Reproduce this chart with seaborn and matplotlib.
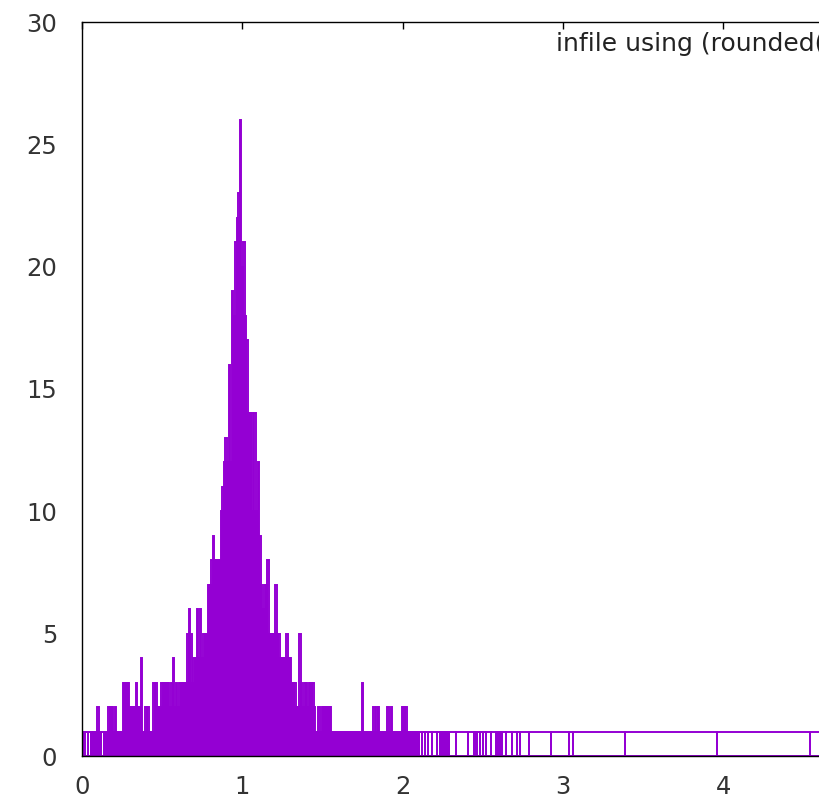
import numpy as np
import pandas as pd
import matplotlib
matplotlib.use("Agg")
import matplotlib.pyplot as plt
import seaborn as sns

# counts per rounded value 0.00 .. 2.11 (step 0.01); 0 = value not present
dense_counts = [
    1, 1, 0, 1, 0, 1, 1, 1, 1, 1, 2, 1, 0, 1, 1, 0, 1,
    2, 2, 2, 1, 2, 1, 1, 1, 1,
    3, 3, 3, 3,
    2, 2, 2, 2, 3, 2, 2, 4, 1, 1, 2, 2, 1, 1, 1,
    3, 3, 2, 2, 2, 3, 3, 3, 3, 3, 2, 3, 4, 2, 3, 2, 3, 3, 3, 3, 3,
    5, 6, 5, 3, 4, 4, 6, 4, 6, 4, 5, 5, 5, 7, 7, 8, 9, 8, 8, 8, 8,
    10, 11, 12, 13, 12, 16, 12, 19, 18, 21, 22, 23, 26, 20, 21, 18, 17, 14, 14, 14, 10, 14, 10, 12,
    9, 7, 6, 7, 7, 8, 5, 5, 5, 5, 7, 5, 5, 4, 4, 4, 4, 5, 4, 4, 3, 3, 3, 2, 2, 5,
    3, 2, 3, 3, 2, 3, 3, 3, 2, 1, 1, 2, 1, 2, 2, 2, 2, 2, 2,
    1, 1, 1, 1, 1, 1, 1, 1, 1, 1, 1, 1, 1, 1, 1, 1, 1, 1, 1,
    3,
    1, 1, 1, 1, 1, 1,
    2, 1, 2, 2,
    1, 1, 1, 1, 1,
    2, 1, 2,
    1, 1, 1, 1, 1, 1,
    2, 2, 2,
    1, 1, 1, 1, 1, 1, 1, 1, 1,
]

# isolated values in the tail, each seen once
tail_values = [
    2.13, 2.15, 2.17, 2.20, 2.23, 2.24, 2.25, 2.26, 2.27, 2.28, 2.30, 2.37,
    2.44, 2.45, 2.46, 2.47, 2.49, 2.51, 2.53, 2.57, 2.59, 2.60, 2.61, 2.63,
    2.66, 2.71, 2.72, 2.74, 2.84, 3.01, 3.06, 3.07, 3.71, 4.21, 4.87,
]

key_title = "infile using (rounded(\\$1)):(1)"
x_ticks = [0, 1, 2, 3, 4]
y_ticks = [0, 5, 10, 15, 20, 25, 30]

dense_x = np.round(np.arange(len(dense_counts)) * 0.01, 2)
df = pd.DataFrame({
    "value": np.concatenate([dense_x, tail_values]),
    "count": dense_counts + [1] * len(tail_values),
})
df = df[df["count"] > 0].sort_values("value").reset_index(drop=True)

# gnuplot-style auto box width: boxes meet halfway between neighbours
v = df["value"].to_numpy()
mids = (v[1:] + v[:-1]) / 2
edges = np.concatenate([[v[0] - (v[1] - v[0]) / 2], mids, [v[-1] + (v[-1] - v[-2]) / 2]])

sns.set_style("white")
plt.rcParams["font.family"] = ["DejaVu Sans"]

fig = plt.figure(figsize=(8.2, 7.98), dpi=100)
ax = fig.add_axes([82 / 820, 42 / 798, (883.5 - 82) / 820, 734 / 798])

sns.histplot(
    data=df, x="value", weights="count", bins=edges.tolist(),
    fill=False, element="bars", color="#9400D3", linewidth=1.4, ax=ax,
)

ax.set_xlim(0, 5)
ax.set_ylim(0, 30)
ax.set_xticks(x_ticks)
ax.set_yticks(y_ticks)
ax.set_xlabel("")
ax.set_ylabel("")
ax.tick_params(direction="in", length=5, width=1, colors="black",
               labelcolor="#333333", labelsize=17.5, top=True, right=True, pad=14)
ax.tick_params(axis="y", pad=18)
for side in ax.spines.values():
    side.set_color("black")
    side.set_linewidth(1.0)

ax.text(556 / 820, 1 - 44 / 798, key_title, transform=fig.transFigure,
        ha="left", va="center", fontsize=18.0, color="#222222")

fig.savefig("out.png", dpi=100)
